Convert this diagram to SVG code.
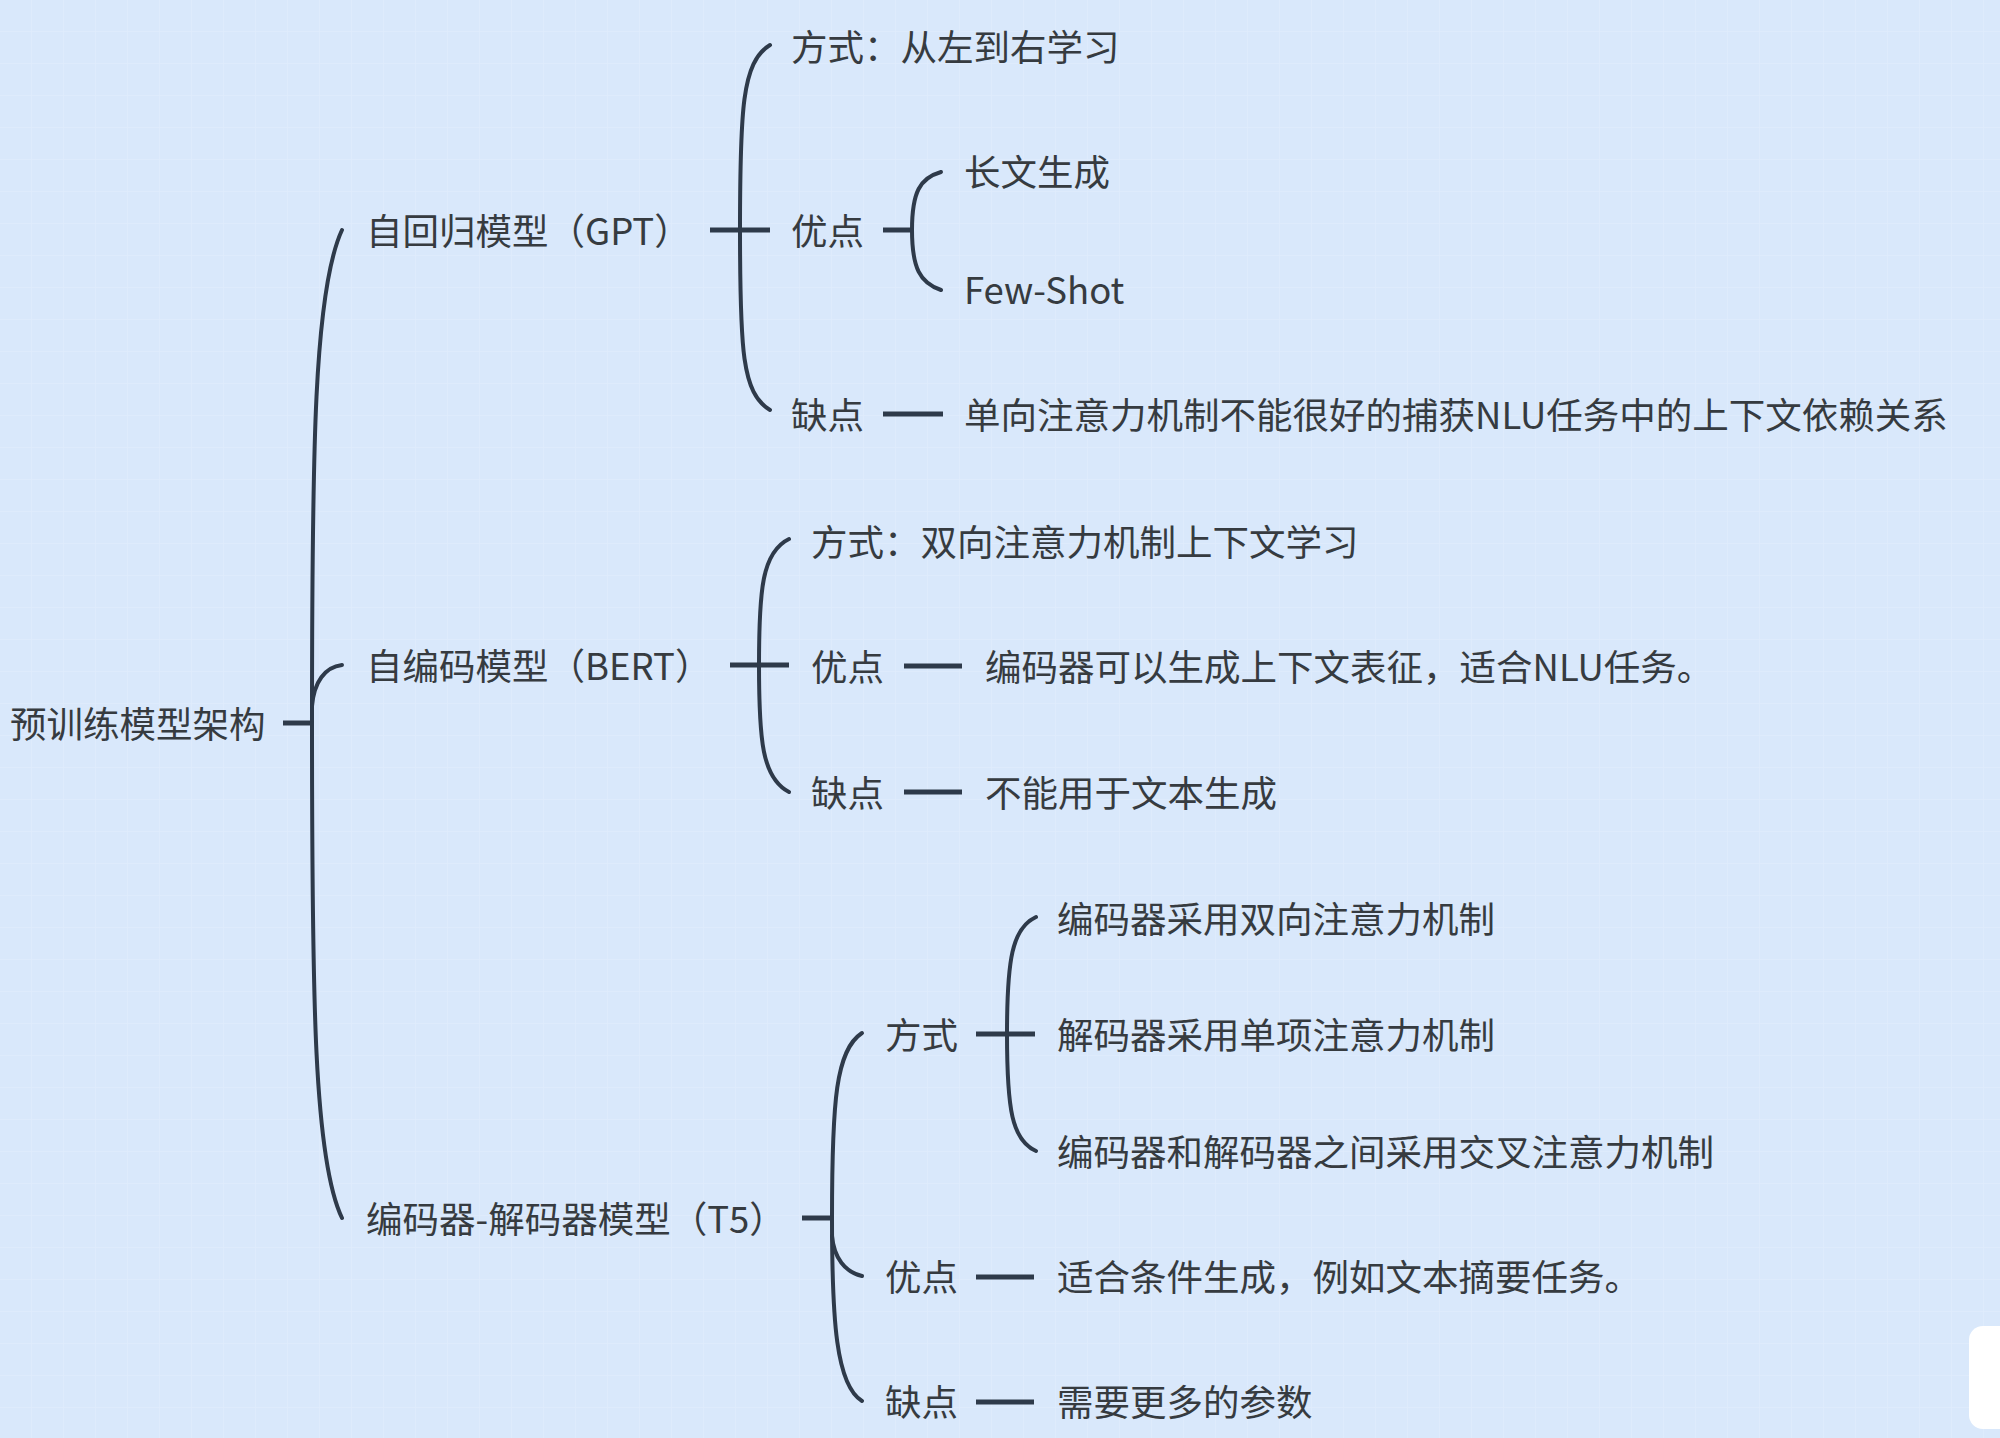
<svg xmlns="http://www.w3.org/2000/svg" width="2000" height="1438" viewBox="0 0 2000 1438">
<defs>
<pattern id="grid" width="32" height="32" patternUnits="userSpaceOnUse">
<path d="M32 0V32M0 32H32" fill="none" stroke="#e4effd" stroke-width="1.5" opacity="0.6"/>
</pattern>
<style>
text{font-family:"Noto Sans CJK SC","Noto Sans",sans-serif;font-size:36.5px;fill:#363b40;dominant-baseline:central}
.c path{fill:none;stroke:#2e3a4a;stroke-width:4;stroke-linecap:round}
.c path.h{stroke-width:5;stroke-linecap:butt}
</style>
</defs>
<rect width="2000" height="1438" fill="#d9e8fb"/>
<rect width="2000" height="1438" fill="url(#grid)"/>
<rect x="1969" y="1326" width="60" height="103" rx="14" fill="#ffffff"/>

<g class="c" id="connectors">
<path class="h" d="M283 723H313"/>
<path d="M312 723C312 450 314 290 342 230"/>
<path d="M312 723C312 1000 314 1160 342 1218"/>
<path d="M312 706C314 682 325 667 342 665"/>

<path class="h" d="M710 230H770"/>
<path d="M740 230C740 110 742 62 770 45"/>
<path d="M740 230C740 350 742 393 770 410"/>
<path class="h" d="M883 230H913"/>
<path d="M912 230C912 192 920 178 941 172"/>
<path d="M912 230C912 268 920 283 941 290"/>
<path class="h" d="M883 414H943"/>

<path class="h" d="M730 665H789"/>
<path d="M759 665C759 590 762 552 789 539"/>
<path d="M759 665C759 740 762 778 789 792"/>
<path class="h" d="M904 666H962"/>
<path class="h" d="M904 792H962"/>

<path class="h" d="M802 1218H833"/>
<path d="M832 1218C832 1100 836 1050 862 1033"/>
<path d="M832 1218C832 1320 836 1385 862 1401"/>
<path d="M832 1236C834 1258 845 1272 862 1276"/>
<path class="h" d="M976 1034H1035"/>
<path d="M1007 1034C1007 960 1012 928 1036 917"/>
<path d="M1007 1034C1007 1110 1012 1140 1036 1151"/>
<path class="h" d="M976 1277H1034"/>
<path class="h" d="M976 1402H1034"/>
</g>

<g id="root"><text x="10" y="722">预训练模型架构</text></g>

<g id="gpt"><text x="366" y="229">自回归模型（GPT）</text></g>
<g id="gpt-way"><text x="791" y="45">方式：从左到右学习</text></g>
<g id="gpt-pro"><text x="791" y="229">优点</text></g>
<g id="gpt-pro-1"><text x="964" y="170">长文生成</text></g>
<g id="gpt-pro-2"><text x="964" y="288">Few-Shot</text></g>
<g id="gpt-con"><text x="791" y="413">缺点</text></g>
<g id="gpt-con-1"><text x="964" y="413">单向注意力机制不能很好的捕获NLU任务中的上下文依赖关系</text></g>

<g id="bert"><text x="366" y="664">自编码模型（BERT）</text></g>
<g id="bert-way"><text x="811" y="540">方式：双向注意力机制上下文学习</text></g>
<g id="bert-pro"><text x="811" y="665">优点</text></g>
<g id="bert-pro-1"><text x="985" y="665">编码器可以生成上下文表征，适合NLU任务。</text></g>
<g id="bert-con"><text x="811" y="791">缺点</text></g>
<g id="bert-con-1"><text x="985" y="791">不能用于文本生成</text></g>

<g id="t5"><text x="366" y="1217">编码器-解码器模型（T5）</text></g>
<g id="t5-way"><text x="885" y="1033">方式</text></g>
<g id="t5-way-1"><text x="1057" y="917">编码器采用双向注意力机制</text></g>
<g id="t5-way-2"><text x="1057" y="1033">解码器采用单项注意力机制</text></g>
<g id="t5-way-3"><text x="1057" y="1150">编码器和解码器之间采用交叉注意力机制</text></g>
<g id="t5-pro"><text x="885" y="1275">优点</text></g>
<g id="t5-pro-1"><text x="1057" y="1275">适合条件生成，例如文本摘要任务。</text></g>
<g id="t5-con"><text x="885" y="1400">缺点</text></g>
<g id="t5-con-1"><text x="1057" y="1400">需要更多的参数</text></g>
</svg>
